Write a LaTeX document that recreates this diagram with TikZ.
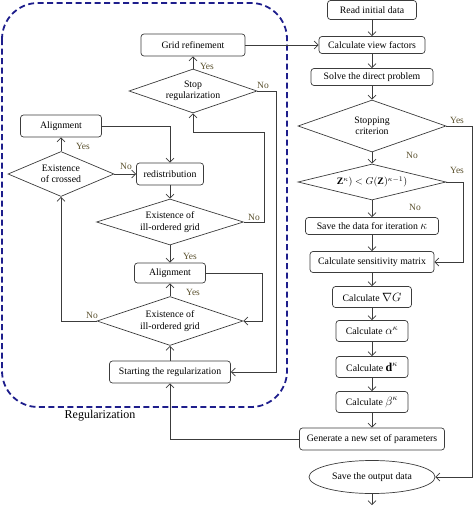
\documentclass[tikz,border=0pt]{standalone}
\usepackage{fontspec}
\setmainfont{Liberation Serif}
\usetikzlibrary{shapes.geometric,arrows.meta}
\definecolor{linecol}{RGB}{60,60,60}
\definecolor{regcol}{RGB}{30,30,140}
\definecolor{lblcol}{RGB}{90,80,45}
\tikzset{
  box/.style={draw=linecol,line width=0.7pt,rounded corners=3pt,inner sep=2pt,
    minimum height=21pt,font=\fontsize{9.8}{11}\selectfont},
  test/.style={draw=linecol,line width=0.7pt,diamond,aspect=2.8,inner sep=0pt,
    align=center,font=\fontsize{9.8}{11.5}\selectfont},
  lbl/.style={text=lblcol,font=\fontsize{9.5}{10}\selectfont,inner sep=0pt},
}
\begin{document}
\begin{tikzpicture}[x=1pt,y=-1pt,>={Straight Barb[length=4pt,width=8pt]}]
      \useasboundingbox (0,0) rectangle (474,506);
      \draw[regcol,line width=1.8pt,dash pattern=on 6pt off 3.5pt,rounded corners=36pt]
        (2,3) rectangle (287,407);
      \node[font=\fontsize{12}{14}\selectfont] (reg) at (100,416) {Regularization};
      % regularization loop
      \draw
        (193,45) node[box,minimum width=104pt,minimum height=22pt] (grid){Grid refinement}
        (193,91) node[test,minimum width=128pt,minimum height=44pt] (stop){Stop\\regularization}
        (61,126) node[box,minimum width=81pt,minimum height=22pt] (align1){Alignment}
        (61,174) node[test,minimum width=106pt,minimum height=45pt] (crossed){Existence\\of crossed}
        (170,174) node[box,minimum width=67pt,minimum height=22pt] (redis){redistribution}
        (170,222) node[test,minimum width=147pt,minimum height=46pt] (ill1){Existence of\\ill-ordered grid}
        (170,273) node[box,minimum width=71pt,minimum height=20pt] (align2){Alignment}
        (170,321) node[test,minimum width=146pt,minimum height=49pt] (ill2){Existence of\\ill-ordered grid}
        (170,372) node[box,minimum width=121pt,minimum height=22pt] (start){Starting the regularization};
      % main loop
      \draw
        (372,10) node[box,minimum width=89pt,minimum height=19pt] (read){Read initial data}
        (372,45) node[box,minimum width=106pt,minimum height=17pt] (view){Calculate view factors}
        (372,77) node[box,minimum width=122pt,minimum height=17pt] (solve){Solve the direct problem}
        (372,126) node[test,minimum width=148pt,minimum height=52pt] (crit){Stopping\\criterion}
        (372,182) node[test,minimum width=148pt,minimum height=36pt,aspect=4] (cmp){$\mathbf{Z}^{\kappa})<G(\mathbf{Z})^{\kappa-1})$}
        (372,226) node[box,minimum width=133pt,minimum height=17pt] (save){Save the data for iteration {\large$\kappa$}}
        (372,262) node[box,minimum width=124pt] (sens){Calculate sensitivity matrix}
        (372,297) node[box,minimum width=79pt] (grad){Calculate {\large$\nabla G$}}
        (372,331) node[box,minimum width=72pt] (alpha){Calculate {\large$\alpha^{\kappa}$}}
        (372,367) node[box,minimum width=72pt] (dvec){Calculate {\large$\mathbf{d}^{\kappa}$}}
        (372,402) node[box,minimum width=72pt] (beta){Calculate {\large$\beta^{\kappa}$}}
        (372,439) node[box,minimum width=145pt,minimum height=22pt] (gen){Generate a new set of parameters}
        (372,477) node[ellipse,draw=linecol,line width=0.7pt,minimum width=126pt,minimum height=33pt,
          font=\fontsize{9.8}{11}\selectfont] (out){Save the output data};
      \coordinate (end) at (372,505);
      \coordinate (back) at (193,132);
      % yes / no
      \path
        (207,66) node[lbl] (yes1){Yes}
        (263,85) node[lbl] (no1){No}
        (83,146) node[lbl] (yes2){Yes}
        (126,166) node[lbl] (no2){No}
        (254,217) node[lbl] (no3){No}
        (190,256) node[lbl] (yes3){Yes}
        (193,292) node[lbl] (yes4){Yes}
        (92,315) node[lbl] (no4){No}
        (457,120) node[lbl] (yes5){Yes}
        (412,155) node[lbl] (no5){No}
        (457,170) node[lbl] (yes6){Yes}
        (415,207) node[lbl] (no6){No};
      \begin{scope}[->,linecol,line width=0.7pt]
        \draw (stop) to (grid);
        \draw (stop.east) -- ++(19,0) |- (start.east);
        \draw (align1.east) -| (redis.north);
        \draw (crossed) to (align1);
        \draw (crossed) to (redis);
        \draw (redis) to (ill1);
        \draw (ill1.east) -- ++(20,0) |- (back) -- (stop.south);
        \draw (ill1) to (align2);
        \draw (align2.east) -- ++(56,0) |- (ill2.east);
        \draw (ill2) to (align2);
        \draw (ill2.west) -| (crossed.south);
        \draw (start) to (ill2);
        \draw (gen.west) -| (start.south);
        \draw (grid) to (view);
        \foreach \a/\b in {read/view,view/solve,solve/crit,crit/cmp,cmp/save,save/sens,
            sens/grad,grad/alpha,alpha/dvec,dvec/beta,beta/gen}
          \draw (\a) to (\b);
        \draw (crit.east) -- ++(26,0) |- (out.east);
        \draw (cmp.east) -- ++(17,0) |- (sens.east);
        \draw (out) to (end);
      \end{scope}
    \end{tikzpicture}
\end{document}
